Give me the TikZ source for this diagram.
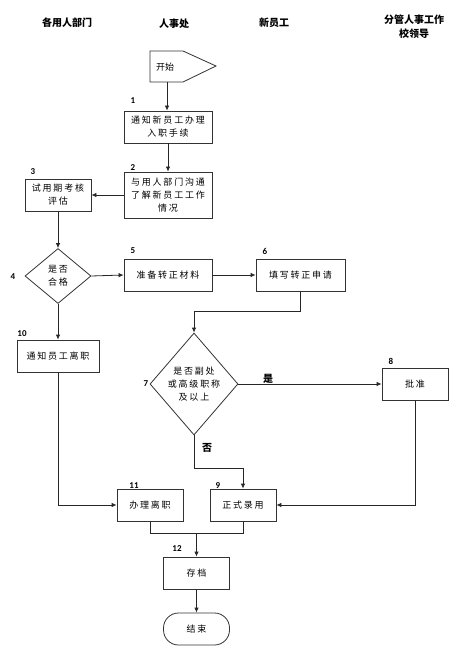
\documentclass[tikz,border=0pt]{standalone}
\usepackage{fontspec}
\newfontfamily\cjk{Noto Sans CJK SC}
\newfontfamily\cjkbox[LetterSpace=20]{Noto Sans CJK SC}
\newfontfamily\numfont{Carlito}
\usetikzlibrary{arrows.meta,shapes.geometric}
\begin{document}
\begin{tikzpicture}[x=1pt,y=-1pt,
  box/.style={draw=black!80,line width=0.8pt,inner sep=0pt,align=center,
    font=\cjkbox\fontsize{9}{13}\selectfont,text=black},
  dia/.style={diamond,draw=black!80,line width=0.8pt,inner sep=0pt,aspect=1,align=center,
    font=\cjkbox\fontsize{9}{13}\selectfont,text=black},
  hdr/.style={font=\cjk\bfseries\fontsize{10}{14}\selectfont,align=center},
  num/.style={font=\numfont\bfseries\fontsize{9}{10}\selectfont,inner sep=0pt},
  yn/.style={font=\cjk\bfseries\fontsize{10}{12}\selectfont,inner sep=0pt},
  arr/.style={line width=0.8pt,draw=black!85,-{Latex[length=5pt,width=4.5pt]}},
  ln/.style={line width=0.8pt,draw=black!85}]
\useasboundingbox (0,0) rectangle (463,655);
% headers
\node[hdr] (h1) at (67,23) {各用人部门};
\node[hdr] (h2) at (174,24) {人事处};
\node[hdr] (h3) at (274,23) {新员工};
\node[hdr] (h4) at (414,27) {分管人事工作\\校领导};
% start
\draw[line width=0.8pt,draw=black!80] (150,51) -- (183,51) -- (216,66) -- (183,82) -- (150,82) -- cycle;
\node[font=\cjk\fontsize{9}{11}\selectfont,inner sep=0pt] (start) at (165,67) {开始};
\coordinate (sb) at (167,82);
% boxes
\node[box,minimum width=88,minimum height=32] (b1) at (168,127) {通知新员工办理\\入职手续};
\node[box,minimum width=88,minimum height=46] (b2) at (168,195) {与用人部门沟通\\了解新员工工作\\情况};
\node[box,minimum width=66,minimum height=32] (b3) at (58,195) {试用期考核\\评估};
\node[dia,minimum width=66,minimum height=55] (d4) at (58,276) {是否\\合格};
\node[box,minimum width=88,minimum height=32] (b5) at (168,275) {准备转正材料};
\node[box,minimum width=89,minimum height=32] (b6) at (300.5,275) {填写转正申请};
\node[dia,minimum width=88,minimum height=102] (d7) at (194,384) {是否副处\\或高级职称\\及以上};
\node[box,minimum width=66,minimum height=32] (b8) at (415,384) {批准};
\node[box,minimum width=82,minimum height=32] (b10) at (58,356) {通知员工离职};
\node[box,minimum width=66,minimum height=32] (b11) at (150,505) {办理离职};
\node[box,minimum width=66,minimum height=32] (b9) at (243,505) {正式录用};
\node[box,minimum width=66,minimum height=32] (b12) at (196.5,573) {存档};
\node[box,minimum width=66,minimum height=32,rounded corners=15pt] (end) at (196.5,629) {结束};
% number labels
\node[num] (n1) at (133,101) {1};
\node[num] (n2) at (133,168) {2};
\node[num] (n3) at (33,172) {3};
\node[num] (n4) at (13,277) {4};
\node[num] (n5) at (133,251) {5};
\node[num] (n6) at (265,251) {6};
\node[num] (n7) at (146,384) {7};
\node[num] (n8) at (391,361) {8};
\node[num] (n9) at (218,486) {9};
\node[num] (n10) at (22,334) {10};
\node[num] (n11) at (134,486) {11};
\node[num] (n12) at (177,549) {12};
% connectors
\draw[arr] (sb) -- (sb |- b1.north);
\draw[arr] (b1.south) -- (b2.north);
\draw[arr] (b2.west) -- (b3.east);
\draw[arr] (b3.south) -- (d4.north);
\draw[arr] (d4.east) -- (b5.west);
\draw[arr] (b5.east) -- (b6.west);
\coordinate (k6) at (194,311);
\draw[arr] (b6.south) |- (k6) -- (d7.north);
\draw[arr] (d7.east) -- (b8.west);
\node[yn] (yes) at (268,379) {是};
\coordinate (k7) at (243,468);
\draw[arr] (d7.south) |- (k7) -- (b9.north);
\node[yn] (no) at (207,448) {否};
\draw[arr] (b8.south) |- (b9.east);
\draw[arr] (d4.south) -- (b10.north);
\draw[arr] (b10.south) |- (b11.west);
\coordinate (m) at (196.5,533);
\draw[ln] (b11.south) |- (m);
\draw[ln] (b9.south) |- (m);
\draw[arr] (m) -- (b12.north);
\draw[arr] (b12.south) -- (end.north);
\end{tikzpicture}
\end{document}
